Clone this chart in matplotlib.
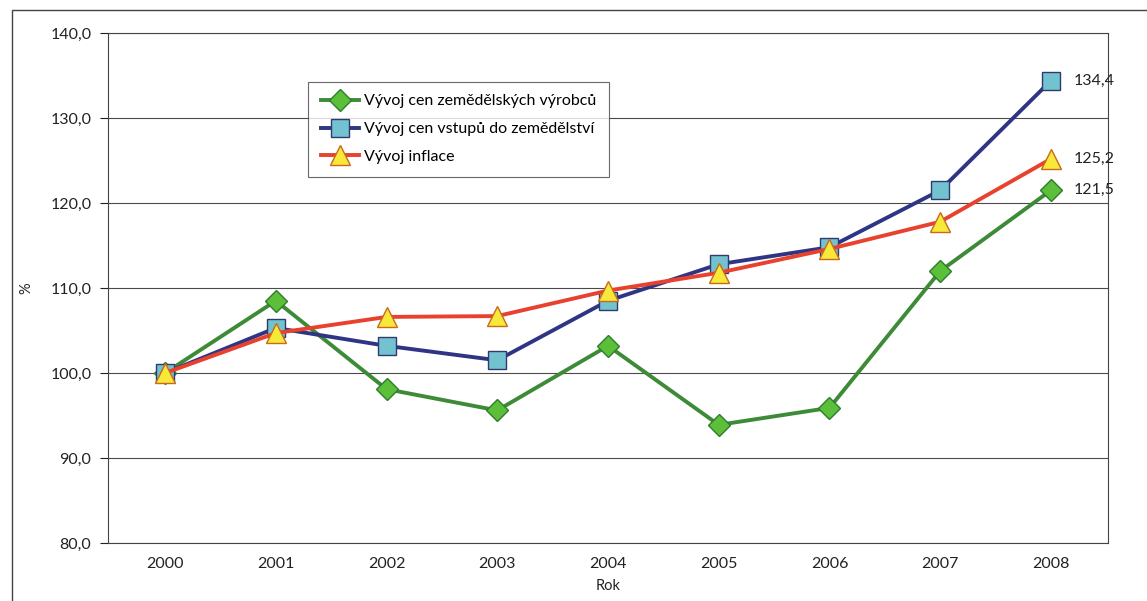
import matplotlib
matplotlib.use("Agg")
import matplotlib.pyplot as plt
from matplotlib.patches import Rectangle
from matplotlib.ticker import FuncFormatter

years = ["2000", "2001", "2002", "2003", "2004", "2005", "2006", "2007", "2008"]
producer_prices = [100.0, 108.5, 98.1, 95.6, 103.2, 93.9, 95.9, 112.0, 121.5]
input_prices = [100.0, 105.3, 103.2, 101.5, 108.5, 112.8, 114.8, 121.5, 134.4]
inflation = [100.0, 104.7, 106.6, 106.7, 109.7, 111.8, 114.6, 117.8, 125.2]
series_names = ["Vývoj cen zemědělských výrobců",
                "Vývoj cen vstupů do zemědělství",
                "Vývoj inflace"]
y_ticks = [80, 90, 100, 110, 120, 130, 140]

plt.rcParams['font.family'] = ['Lato', 'DejaVu Sans']

fig = plt.figure(figsize=(11.47, 6.01), dpi=100)
ax = fig.add_axes([0.0942, 0.0965, 0.8718, 0.8485])

x = list(range(len(years)))
ax.plot(x, producer_prices, color="#3d8b37", lw=2.8, marker="D", ms=11,
        mfc="#5cbf3a", mec="#2e7d2e", mew=1.0, label=series_names[0], zorder=3)
ax.plot(x, input_prices, color="#2f3585", lw=2.8, marker="s", ms=13,
        mfc="#72c2cf", mec="#2f3a70", mew=1.0, label=series_names[1], zorder=4)
ax.plot(x, inflation, color="#e8412e", lw=2.8, marker="^", ms=15,
        mfc="#f7e83a", mec="#c86a1c", mew=1.0, label=series_names[2], zorder=5)

for series in (input_prices, inflation, producer_prices):
    ax.annotate(f"{series[-1]:.1f}".replace(".", ","), (x[-1], series[-1]),
                xytext=(16, 0), textcoords="offset points", va="center",
                ha="left", fontsize=11.5, color="#222222")

ax.set_xlim(-0.515, 8.515)
ax.set_ylim(80, 140)
ax.set_yticks(y_ticks)
ax.yaxis.set_major_formatter(FuncFormatter(lambda v, p: f"{v:.1f}".replace(".", ",")))
ax.set_xticks(x)
ax.set_xticklabels(years)
ax.tick_params(axis="x", length=0, pad=10, labelsize=11.5, colors="#222222")
ax.tick_params(axis="y", length=6, width=0.8, pad=6, labelsize=11.5, colors="#222222")
ax.grid(axis="y", color="#4a4a4a", lw=0.8)
ax.set_axisbelow(True)
for s in ax.spines.values():
    s.set_color("#444444")
    s.set_linewidth(0.8)
ax.set_xlabel("Rok", fontsize=10.5, labelpad=6, color="#222222")
ax.set_ylabel("%", fontsize=10.5, labelpad=12, color="#222222")

leg = ax.legend(loc="upper left", bbox_to_anchor=(0.2, 0.905), frameon=True,
                fancybox=False, edgecolor="#444444", fontsize=11.5,
                handlelength=2.4, borderpad=0.8, labelspacing=0.85,
                handletextpad=0.3, borderaxespad=0)
leg.get_frame().set_linewidth(0.8)
leg.set_zorder(10)

fig.patches.append(Rectangle((12 / 1147, -0.1), 1.2, 1.1 - 10 / 601,
                             transform=fig.transFigure, fill=False,
                             ec="#444444", lw=1.0))

fig.savefig("out.png", dpi=100)
